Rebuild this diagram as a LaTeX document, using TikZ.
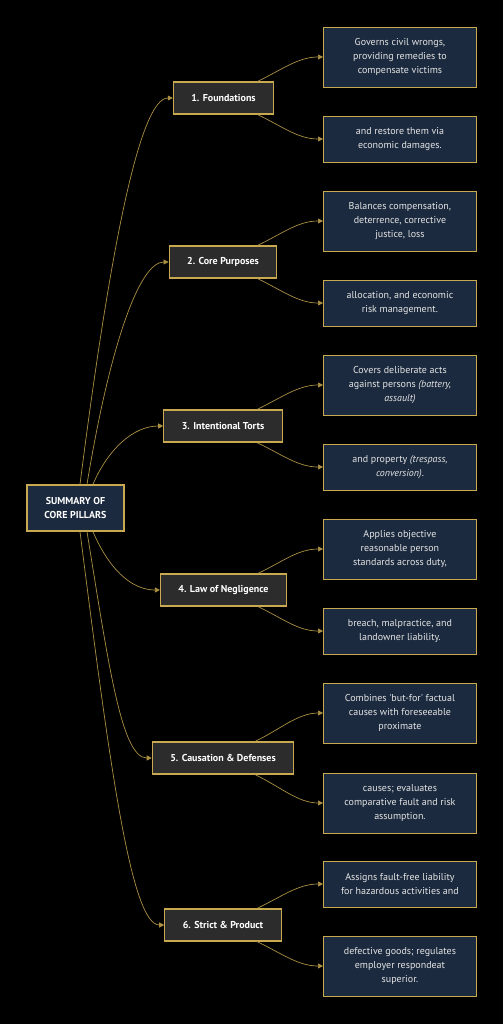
\documentclass[tikz,border=0pt]{standalone}
\usepackage{fontspec}
\setmainfont{PT Sans}
\usepackage{xcolor}
\usepackage{tikz}
\usetikzlibrary{arrows.meta}

\definecolor{navy}{HTML}{1B2A3E}
\definecolor{slate}{HTML}{2C2C2C}
\definecolor{gold}{HTML}{C9A94F}
\definecolor{paper}{HTML}{E4E4E4}

\begin{document}
\begin{tikzpicture}[x = 1pt, y = -1pt, >={Triangle[length = 5pt, width = 5pt]}, font = \fontsize{10}{14}\selectfont]
            \tikzstyle{summary} = [rectangle, draw=gold, line width=1.5pt, fill=navy, text=white, font=\fontsize{10}{14}\selectfont\bfseries, align=center, minimum width=97pt, minimum height=46pt]
            \tikzstyle{pillar} = [rectangle, draw=gold, line width=1.1pt, fill=slate, text=white, font=\fontsize{10}{14}\selectfont\bfseries, minimum height=32pt, inner xsep=18pt]
            \tikzstyle{detail} = [rectangle, draw=gold, line width=0.9pt, fill=navy, text=paper, align=center, minimum width=153pt, minimum height=46pt, anchor=west]
            \tikzstyle{tall} = [minimum height=60pt]
            \tikzstyle{link} = [->, draw=gold!85!black, line width=0.7pt]

            \fill [black] (0, 0) rectangle (503, 1024);

            \node [summary] (C0) at (75.5, 508) {SUMMARY OF\\CORE PILLARS};

            \node [pillar] (P1) at (223.5, 98) {1. Foundations};
            \node [pillar] (P2) at (223, 262) {2. Core Purposes};
            \node [pillar] (P3) at (223, 426) {3. Intentional Torts};
            \node [pillar] (P4) at (223.5, 590) {4. Law of Negligence};
            \node [pillar] (P5) at (223, 758) {5. Causation \& Defenses};
            \node [pillar] (P6) at (223, 925) {6. Strict \& Product};

            \node [detail, tall] (D1) at (323, 57) {Governs civil wrongs,\\providing remedies to\\compensate victims};
            \node [detail] (D2) at (323, 139) {and restore them via\\economic damages.};

            \node [detail, tall] (D3) at (323, 221) {Balances compensation,\\deterrence, corrective\\justice, loss};
            \node [detail] (D4) at (323, 303) {allocation, and economic\\risk management.};

            \node [detail, tall] (D5) at (323, 385) {Covers deliberate acts\\against persons \textit{(battery,}\\\textit{assault)}};
            \node [detail] (D6) at (323, 467) {and property \textit{(trespass,}\\\textit{conversion)}.};

            \node [detail, tall] (D7) at (323, 549) {Applies objective\\reasonable person\\standards across duty,};
            \node [detail] (D8) at (323, 631) {breach, malpractice, and\\landowner liability.};

            \node [detail, tall] (D9) at (323, 713) {Combines \textquotesingle but-for\textquotesingle{} factual\\causes with foreseeable\\proximate};
            \node [detail, tall] (D10) at (323, 803) {causes; evaluates\\comparative fault and risk\\assumption.};

            \node [detail] (D11) at (323, 884) {Assigns fault-free liability\\for hazardous activities and};
            \node [detail, tall] (D12) at (323, 966) {defective goods; regulates\\employer respondeat\\superior.};

            \draw [link] ([xshift=4.5pt]C0.north) .. controls +(30, -235) and +(-33, 0) .. (P1.west);
            \draw [link] ([xshift=11.5pt]C0.north) .. controls +(22, -134) and +(-30, 0) .. (P2.west);
            \draw [link] ([xshift=17.5pt]C0.north) .. controls +(15, -35) and +(-30, 0) .. (P3.west);
            \draw [link] ([xshift=17.5pt]C0.south) .. controls +(15, 35) and +(-30, 0) .. (P4.west);
            \draw [link] ([xshift=11.5pt]C0.south) .. controls +(22, 136) and +(-30, 0) .. (P5.west);
            \draw [link] ([xshift=4.5pt]C0.south) .. controls +(30, 236) and +(-33, 0) .. (P6.west);

            \draw [link] ([xshift=34pt]P1.north) .. controls +(25, -12) and +(-25, 0) .. (D1.west);
            \draw [link] ([xshift=34pt]P1.south) .. controls +(25, 12) and +(-25, 0) .. (D2.west);
            \draw [link] ([xshift=34.5pt]P2.north) .. controls +(25, -12) and +(-25, 0) .. (D3.west);
            \draw [link] ([xshift=34.5pt]P2.south) .. controls +(25, 12) and +(-25, 0) .. (D4.west);
            \draw [link] ([xshift=34pt]P3.north) .. controls +(25, -12) and +(-25, 0) .. (D5.west);
            \draw [link] ([xshift=34pt]P3.south) .. controls +(25, 12) and +(-25, 0) .. (D6.west);
            \draw [link] ([xshift=34.5pt]P4.north) .. controls +(25, -12) and +(-25, 0) .. (D7.west);
            \draw [link] ([xshift=34.5pt]P4.south) .. controls +(25, 12) and +(-25, 0) .. (D8.west);
            \draw [link] ([xshift=32pt]P5.north) .. controls +(25, -12) and +(-25, 0) .. (D9.west);
            \draw [link] ([xshift=32pt]P5.south) .. controls +(25, 12) and +(-25, 0) .. (D10.west);
            \draw [link] ([xshift=34pt]P6.north) .. controls +(25, -12) and +(-25, 0) .. (D11.west);
            \draw [link] ([xshift=34pt]P6.south) .. controls +(25, 12) and +(-25, 0) .. (D12.west);
        \end{tikzpicture}
\end{document}
